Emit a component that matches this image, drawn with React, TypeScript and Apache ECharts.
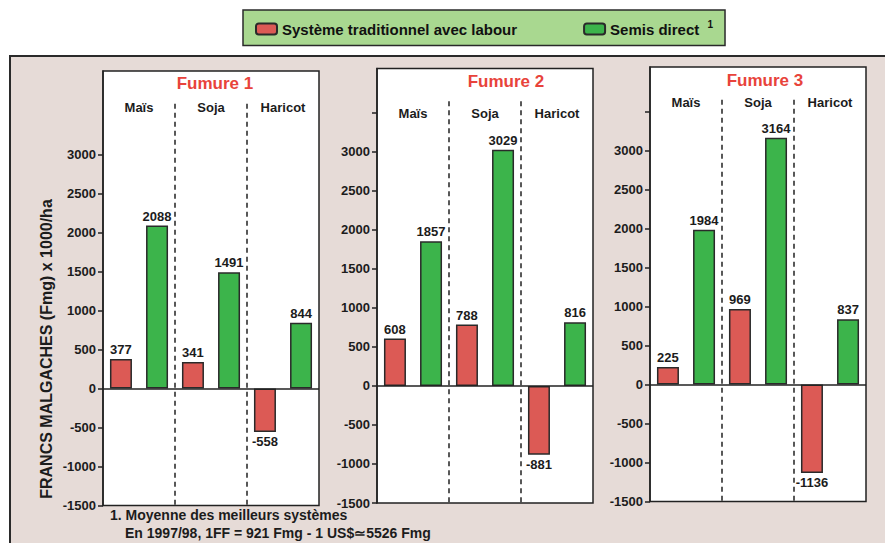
import { useEffect, useRef } from 'react';
import * as echarts from 'echarts';

const crops = ['Maïs', 'Soja', 'Haricot'];
const fumureTitles = ['Fumure 1', 'Fumure 2', 'Fumure 3'];
const seriesNames = ['Système traditionnel avec labour', 'Semis direct'];
const footnoteMark = '1';

const traditionnelF1 = [377, 341, -558];
const semisDirectF1 = [2088, 1491, 844];
const traditionnelF2 = [608, 788, -881];
const semisDirectF2 = [1857, 3029, 816];
const traditionnelF3 = [225, 969, -1136];
const semisDirectF3 = [1984, 3164, 837];

const yLabelValues = [-1500, -1000, -500, 0, 500, 1000, 1500, 2000, 2500, 3000];
const yTickValuesF1 = [-1500, -1000, -500, 0, 500, 1000, 1500, 2000, 2500, 3000];
const yTickValuesF23 = [-1500, -1000, -500, 0, 500, 1000, 1500, 2000, 2500, 3000, 3500];
const yMin = -1500;
const yMax = 4070;
const yInterval = 500;
const dividerBoundaries = [1, 2];
const dividerTopValue = 3650;

const yAxisTitle = 'FRANCS MALGACHES (Fmg) x 1000/ha';
const footnoteLine1 = '1. Moyenne des meilleurs systèmes';
const footnoteLine2 = 'En 1997/98, 1FF = 921 Fmg - 1 US$≃5526 Fmg';

const FONT = '"Liberation Sans", Arial, Helvetica, sans-serif';
const TRAD_COLOR = '#dc5a55';
const SEMIS_COLOR = '#3cb44b';
const INK = '#1c1c1c';

const panelData = [
  { trad: traditionnelF1, semis: semisDirectF1, ticks: yTickValuesF1 },
  { trad: traditionnelF2, semis: semisDirectF2, ticks: yTickValuesF23 },
  { trad: traditionnelF3, semis: semisDirectF3, ticks: yTickValuesF23 },
];

const panelLayout = [
  { left: 103, top: 71, titleX: 215, titleY: 75, catMargin: 30 },
  { left: 377, top: 68.5, titleX: 506, titleY: 73, catMargin: 38 },
  { left: 650, top: 67, titleX: 765, titleY: 72, catMargin: 29 },
];
const PANEL_W = 216;
const PANEL_H = 434.5;

export default function App() {
  const ref = useRef<HTMLDivElement>(null);
  useEffect(() => {
    if (!ref.current) return;
    const chart = echarts.init(ref.current, null, { renderer: 'svg' });

    const grids = panelLayout.map((p) => ({
      left: p.left,
      top: p.top,
      width: PANEL_W,
      height: PANEL_H,
      show: true,
      backgroundColor: '#ffffff',
      borderColor: '#222',
      borderWidth: 1.5,
      containLabel: false,
    }));

    const xAxes = panelLayout.map((p, i) => ({
      type: 'category',
      gridIndex: i,
      data: crops,
      position: 'top',
      axisLine: { show: false, onZero: false },
      axisTick: { show: false },
      splitLine: { show: false },
      axisLabel: {
        inside: true,
        margin: p.catMargin,
        fontFamily: FONT,
        fontWeight: 'bold',
        fontSize: 13,
        color: INK,
        interval: 0,
      },
    }));

    const yAxes = panelData.map((d, i) => ({
      type: 'value',
      gridIndex: i,
      min: yMin,
      max: yMax,
      interval: yInterval,
      axisLine: { show: true, onZero: false, lineStyle: { color: '#222', width: 1.5 } },
      axisTick: { show: true, length: 5, customValues: d.ticks, lineStyle: { color: '#222', width: 1.5 } },
      axisLabel: {
        customValues: yLabelValues,
        formatter: (v: number) => String(v),
        margin: 7,
        fontFamily: FONT,
        fontWeight: 'bold',
        fontSize: 13,
        color: INK,
      },
      splitLine: { show: false },
    }));

    const barLabel = {
      show: true,
      fontFamily: FONT,
      fontWeight: 'bold',
      fontSize: 13,
      color: INK,
      distance: 3,
    };

    const toItems = (arr: number[]) =>
      arr.map((v) => ({ value: v, label: { position: v < 0 ? 'bottom' : 'top' } }));

    const series: any[] = [];
    panelData.forEach((d, i) => {
      series.push({
        type: 'bar',
        name: seriesNames[0],
        xAxisIndex: i,
        yAxisIndex: i,
        data: toItems(d.trad),
        barWidth: 22,
        barGap: '64%',
        itemStyle: { color: TRAD_COLOR, borderColor: '#2a2a2a', borderWidth: 1.5 },
        label: barLabel,
        markLine: {
          silent: true,
          symbol: 'none',
          label: { show: false },
          lineStyle: { color: '#222', width: 1.5, type: 'solid' },
          data: [{ yAxis: 0 }],
        },
      });
      series.push({
        type: 'bar',
        name: seriesNames[1],
        xAxisIndex: i,
        yAxisIndex: i,
        data: toItems(d.semis),
        barWidth: 22,
        barGap: '64%',
        itemStyle: { color: SEMIS_COLOR, borderColor: '#2a2a2a', borderWidth: 1.5 },
        label: barLabel,
      });
      series.push({
        type: 'custom',
        name: 'dividers',
        xAxisIndex: i,
        yAxisIndex: i,
        silent: true,
        data: dividerBoundaries.map((b) => [b, dividerTopValue]),
        renderItem: (params: any, api: any) => {
          const c = api.value(0);
          const top = api.coord([c, api.value(1)]);
          const bottom = api.coord([c, yMin]);
          const band = api.size([1, 0])[0];
          const x = top[0] - band / 2;
          return {
            type: 'line',
            shape: { x1: x, y1: top[1], x2: x, y2: bottom[1] },
            style: { stroke: '#222', lineWidth: 1.5, lineDash: [5, 4] },
          };
        },
      });
    });

    const titles = panelLayout.map((p, i) => ({
      text: fumureTitles[i],
      left: p.titleX,
      top: p.titleY,
      textAlign: 'center',
      padding: 0,
      textStyle: { fontFamily: FONT, fontWeight: 'bold', fontSize: 17, color: '#e8433b' },
    }));

    chart.setOption({
      animation: false,
      title: titles,
      legend: {
        data: seriesNames,
        left: 243,
        top: 10,
        padding: [9, 12, 9, 12],
        itemGap: 66,
        itemWidth: 21,
        itemHeight: 11,
        selectedMode: false,
        backgroundColor: '#a9d890',
        borderColor: '#2a2a2a',
        borderWidth: 1.5,
        formatter: (name: string) =>
          name === seriesNames[1] ? `${name} {s|${footnoteMark}}` : name,
        textStyle: {
          fontFamily: FONT,
          fontWeight: 'bold',
          fontSize: 15,
          color: '#111',
          rich: {
            s: { fontFamily: FONT, fontWeight: 'bold', fontSize: 10, color: '#111', padding: [0, 0, 10, 4] },
          },
        },
      },
      grid: grids,
      xAxis: xAxes,
      yAxis: yAxes,
      series,
      graphic: {
        elements: [
          {
            type: 'rect',
            z: -10,
            silent: true,
            shape: { x: 10, y: 56, width: 900, height: 520 },
            style: { fill: '#e6dbd7', stroke: '#2a2a2a', lineWidth: 2 },
          },
          {
            type: 'text',
            z: 10,
            x: 46,
            y: 349,
            rotation: Math.PI / 2,
            style: {
              text: yAxisTitle,
              font: `bold 16px ${FONT}`,
              fill: INK,
              align: 'center',
              verticalAlign: 'middle',
            },
          },
          {
            type: 'text',
            z: 10,
            x: 110,
            y: 515,
            style: {
              text: footnoteLine1,
              font: `bold 14px ${FONT}`,
              fill: INK,
              align: 'left',
              verticalAlign: 'middle',
            },
          },
          {
            type: 'text',
            z: 10,
            x: 125,
            y: 533,
            style: {
              text: footnoteLine2,
              font: `bold 14px ${FONT}`,
              fill: INK,
              align: 'left',
              verticalAlign: 'middle',
            },
          },
        ],
      },
    });

    return () => chart.dispose();
  }, []);

  return (
    <div
      ref={ref}
      style={{ position: 'absolute', left: 0, top: 0, width: 885, height: 543, background: '#ffffff' }}
    />
  );
}
